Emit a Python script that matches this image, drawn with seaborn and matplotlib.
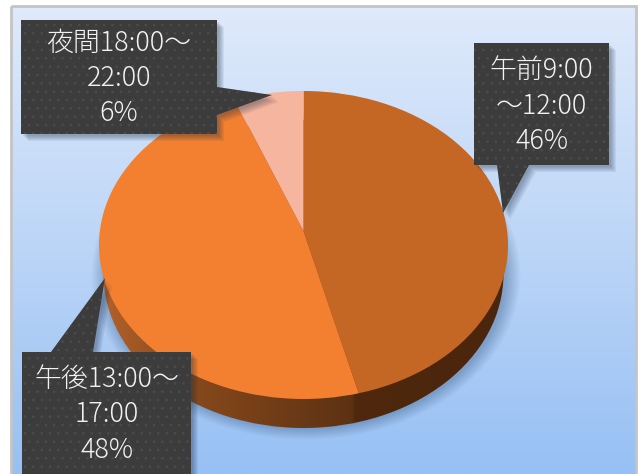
import matplotlib
matplotlib.use("Agg")
import matplotlib.pyplot as plt
from matplotlib.colors import LinearSegmentedColormap
from matplotlib.patches import Circle, Ellipse, Polygon, Rectangle
import numpy as np
import seaborn as sns

# slices, clockwise from 12 o'clock
categories = ["午前9:00\n～12:00", "午後13:00～\n17:00", "夜間18:00～\n22:00"]
shares = [46, 48, 6]
slice_colors = ["#c46624", "#f28030", "#f6b59f"]

W, H = 638, 474

sns.set_theme(style="white")
plt.rcParams["font.family"] = ["Noto Sans CJK JP", "DejaVu Sans"]
plt.rcParams["hatch.linewidth"] = 0.7
palette = sns.color_palette(slice_colors)

fig = plt.figure(figsize=(W / 100, H / 100), dpi=100, facecolor="white")


def pixel_axes(zorder):
    ax = fig.add_axes([0, 0, 1, 1], zorder=zorder)
    ax.set_xlim(0, W)
    ax.set_ylim(H, 0)
    ax.axis("off")
    ax.patch.set_alpha(0)
    return ax


# background panel
bg = pixel_axes(0)
bg_cmap = LinearSegmentedColormap.from_list("bg", ["#dfeafb", "#bdd6f7", "#97c0f4"])
bg.imshow(np.linspace(0, 1, 256)[:, None], cmap=bg_cmap, aspect="auto",
          extent=(11, 636, H, 6), zorder=1)
bg.add_patch(Rectangle((11, 6), 625, H, fill=False, ec="#c4c4c4", lw=2, zorder=2))

# soft shadow under the pie
xx, yy = np.meshgrid(np.arange(W) + 0.5, np.arange(H) + 0.5)
dist = np.sqrt(((xx - 306) / 215) ** 2 + ((yy - 275) / 165) ** 2)
shadow = np.zeros((H, W, 4))
shadow[..., :3] = matplotlib.colors.to_rgb("#3f628c")
shadow[..., 3] = 0.42 * np.clip((1.0 - dist) / 0.07, 0, 1)
bg.imshow(shadow, aspect="auto", extent=(0, W, H, 0), zorder=3)
bg.set_xlim(0, W)
bg.set_ylim(H, 0)

# pie, squashed to an ellipse; rim drawn first, then the clipped top surface
cx, cy, rx, ry = 303.5, 245, 204.5, 154
under = 0.3
ax = fig.add_axes([(cx - rx) / W, 1 - (cy + ry * (1 + under)) / H,
                   2 * rx / W, ry * (2 + under) / H], zorder=1)

rim_cmap = LinearSegmentedColormap.from_list(
    "rim", [(0, "#b4622a"), (0.2, "#8a4a1c"), (0.62, "#5c3213"),
            (0.627, "#4f280d"), (1, "#4a260c")])
rim = ax.imshow(np.linspace(0, 1, 400)[None, :], cmap=rim_cmap, aspect="auto",
                extent=(-1, 1, -1 - under, 1))

# the slices meet above the middle of the ellipse (perspective), hence the offset
wedges, _ = ax.pie(shares, colors=palette, startangle=90, counterclock=False,
                   center=(0, 0.09), radius=3)
ax.set_aspect("auto")
ax.set_xlim(-1, 1)
ax.set_ylim(-1 - under, 1)
ax.axis("off")

rim.set_clip_path(Ellipse((0, -29 / ry), 2 * 200 / rx, 2, transform=ax.transData))
face = Circle((0, 0), 1, transform=ax.transData)
for wedge in wedges:
    wedge.set_clip_on(True)
    wedge.set_clip_path(face)
    wedge.set_linewidth(0)

# callouts
over = pixel_axes(2)
boxes = [(474, 609, 43, 165), (22, 191, 352, 490), (21, 217, 20, 134)]
pointers = [[(497, 165), (503, 213), (529, 165)],
            [(51, 352), (105, 278), (93, 352)],
            [(217, 87), (272, 95), (217, 115)]]
text_xy = [(541.5, 105.5), (107, 414.5), (119, 77.5)]

for i in range(3):
    x0, x1, y0, y1 = boxes[i]
    tip = pointers[i]
    if i == 0:
        pts = [(x0, y0), (x1, y0), (x1, y1)] + tip[::-1] + [(x0, y1)]
    elif i == 1:
        pts = [(x0, y0)] + tip + [(x1, y0), (x1, y1), (x0, y1)]
    else:
        pts = [(x0, y0), (x1, y0)] + tip + [(x1, y1), (x0, y1)]
    pts = np.array(pts, dtype=float)
    for off in range(2, 8):
        over.add_patch(Polygon(pts + off, fc="#1f2f45", ec="none", alpha=0.07))
    over.add_patch(Polygon(pts, fc="#3c3c3c", ec="#4b4b4b", lw=0, hatch=".."))
    over.text(*text_xy[i], f"{categories[i]}\n{shares[i]}%", color="#f2f2f2",
              fontsize=19.4, fontweight="light", ha="center", va="center",
              linespacing=1.32)

fig.savefig("out.png", dpi=100)
